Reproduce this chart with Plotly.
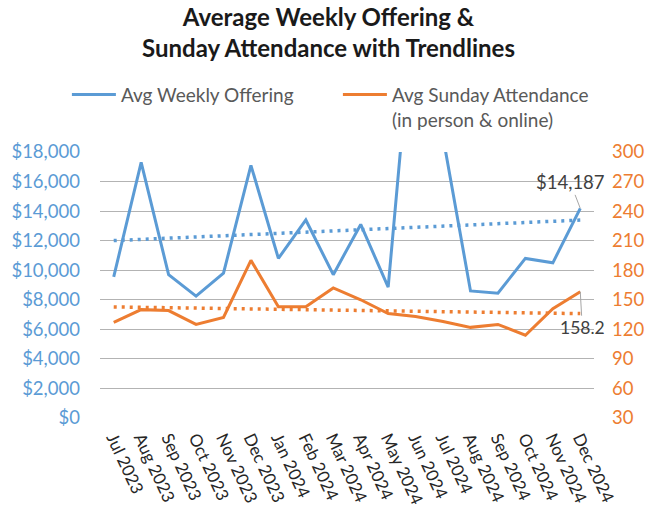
import numpy as np
import plotly.graph_objects as go

months = ["Jul 2023", "Aug 2023", "Sep 2023", "Oct 2023", "Nov 2023", "Dec 2023",
          "Jan 2024", "Feb 2024", "Mar 2024", "Apr 2024", "May 2024", "Jun 2024",
          "Jul 2024", "Aug 2024", "Sep 2024", "Oct 2024", "Nov 2024", "Dec 2024"]
offering = [9550, 17300, 9700, 8250, 9800, 17100, 10800, 13400, 9700, 13100,
            8850, 29500, 19000, 8600, 8450, 10800, 10500, 14187]
attendance = [127, 140, 139, 125, 132, 190, 143, 143, 162, 150,
              136, 133, 128, 122, 125, 114, 141, 158.2]

left_ticks = list(range(0, 18001, 2000))
right_ticks = list(range(30, 301, 30))

BLUE = "#5B9BD5"
ORANGE = "#ED7D31"
FONT = "Lato"

idx = np.arange(len(months))
off_trend = np.polyval(np.polyfit(idx, offering, 1), idx)
att_trend = np.polyval(np.polyfit(idx, attendance, 1), idx)

fig = go.Figure()
fig.add_trace(go.Scatter(x=idx, y=offering, mode="lines", name="Avg Weekly Offering",
                         line=dict(color=BLUE, width=3), yaxis="y"))
fig.add_trace(go.Scatter(x=idx, y=off_trend, mode="lines", showlegend=False,
                         line=dict(color=BLUE, width=3.5, dash="3px,5px"), yaxis="y"))
fig.add_trace(go.Scatter(x=idx, y=attendance, mode="lines",
                         name="Avg Sunday Attendance<br>(in person & online)",
                         line=dict(color=ORANGE, width=3), yaxis="y2"))
fig.add_trace(go.Scatter(x=idx, y=att_trend, mode="lines", showlegend=False,
                         line=dict(color=ORANGE, width=3.5, dash="3px,5px"), yaxis="y2"))

fig.update_layout(
    width=657, height=512,
    margin=dict(l=100, r=63, t=152, b=94),
    paper_bgcolor="white", plot_bgcolor="white",
    font=dict(family=FONT, size=16, color="#404040"),
    title=dict(text="Average Weekly Offering &<br>Sunday Attendance with Trendlines",
               x=0.5, xanchor="center", yref="container", y=1 - 26 / 512,
               yanchor="middle",
               font=dict(family=FONT, size=24, color="#1a1a1a", weight="bold")),
    legend=dict(orientation="h", x=-0.067, xanchor="left", y=1.287, yanchor="top",
                valign="top", font=dict(size=19, color="#595959"),
                itemwidth=44, entrywidth=212, entrywidthmode="pixels",
                bgcolor="rgba(0,0,0,0)"),
    xaxis=dict(range=[-0.5, 17.5], tickvals=idx, ticktext=months, tickangle=65,
               showgrid=False, zeroline=False, showline=False, ticks="",
               ticklabelstandoff=6, automargin=False,
               tickfont=dict(size=17, color="#262626")),
    yaxis=dict(range=[0, 18000], tickvals=left_ticks,
               ticktext=[f"${v:,}" for v in left_ticks],
               showgrid=True, gridcolor="#b3b3b3", gridwidth=1, zeroline=False,
               showline=False, ticks="", ticklabelstandoff=19, automargin=False,
               tickfont=dict(size=18.5, color=BLUE)),
    yaxis2=dict(range=[30, 300], tickvals=right_ticks, overlaying="y", side="right",
                showgrid=False, zeroline=False, showline=False, ticks="",
                ticklabelstandoff=17, automargin=False,
                tickfont=dict(size=18.5, color=ORANGE)),
    annotations=[
        dict(x=idx[-1], y=offering[-1], xref="x", yref="y",
             text=f"${offering[-1]:,}", showarrow=True, arrowhead=0,
             arrowwidth=1, arrowcolor="#a6a6a6", ax=-10, ay=-26,
             font=dict(size=18.5, color="#404040")),
        dict(x=idx[-1], y=attendance[-1], xref="x", yref="y2",
             text=f"{attendance[-1]}", showarrow=True, arrowhead=0,
             arrowwidth=1, arrowcolor="#a6a6a6", ax=2, ay=36,
             font=dict(size=17.5, color="#404040")),
    ],
)

fig.write_html("out.html", config={"displayModeBar": False},
               post_script="document.body.style.margin='0px';")
